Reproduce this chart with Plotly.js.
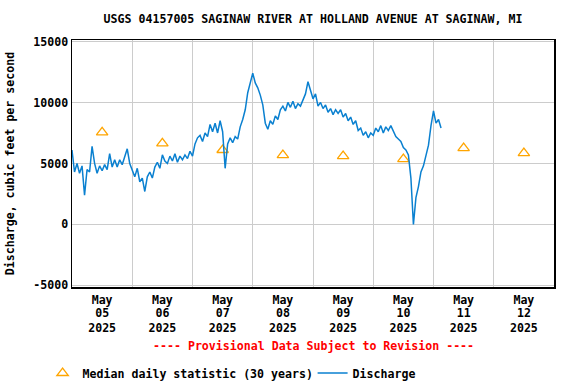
<!DOCTYPE html>
<html>
<head>
<meta charset="utf-8">
<script src="https://cdn.plot.ly/plotly-3.0.1.min.js"></script>
<style>html,body{margin:0;padding:0;background:#fff;}#chart{width:576px;height:384px;}</style>
</head>
<body>
<div id="chart"></div>
<script>
// ---- data ----
const dischargeStart = '2025-05-05T00:00:00';
const dischargeStepHours = 1;
const discharge = [
  6100, 4300, 5000, 4200, 4800, 2400, 4500, 4300, 6400, 5000,
  4200, 4800, 4400, 4900, 4500, 5800, 4700, 5300, 4700, 5300,
  4900, 5500, 6200, 5000, 4500, 3900, 4600, 3500, 3800, 2700,
  3900, 4300, 3800, 4700, 5100, 4600, 5700, 5200, 5000, 5600,
  5200, 5800, 5100, 5600, 5300, 5700, 5400, 6000, 5600, 6600,
  7100, 7300, 6800, 7500, 7200, 8200, 7600, 8300, 7500, 8500,
  7600, 4600, 6600, 7100, 6700, 7200, 7000, 8000, 8600, 9400,
  10800, 11500, 12400, 11600, 11200, 10600, 9800, 8300, 7800, 8500,
  8200, 8900, 8600, 9400, 9700, 9300, 10000, 9600, 10100, 9500,
  9900, 9700, 10200, 10700, 11700, 10900, 10300, 10700, 9700, 10000,
  9500, 9800, 9200, 9500, 9000, 9400, 9100, 9400, 8800, 9100,
  8500, 8800, 8200, 8500, 7700, 7900, 7300, 7600, 7100, 7500,
  7300, 7900, 7600, 8100, 7500, 8000, 7700, 8100, 7600, 7200,
  7000, 6800, 6300, 6100, 5700, 3800, 0, 2200, 3100, 4300,
  4800, 5800, 6500, 8100, 9300, 8300, 8600, 7900
];
const medianDates = ['2025-05-05 12:00','2025-05-06 12:00','2025-05-07 12:00','2025-05-08 12:00',
                     '2025-05-09 12:00','2025-05-10 12:00','2025-05-11 12:00','2025-05-12 12:00'];
const medianValues = [7550, 6650, 6100, 5680, 5600, 5350, 6250, 5850];
const tickDates = medianDates;
const tickMonths = ['May','May','May','May','May','May','May','May'];
const tickDays = ['05','06','07','08','09','10','11','12'];
const tickYears = ['2025','2025','2025','2025','2025','2025','2025','2025'];
const yTicks = [-5000, 0, 5000, 10000, 15000];
const titleText = 'USGS 04157005 SAGINAW RIVER AT HOLLAND AVENUE AT SAGINAW, MI';
const yTitle = 'Discharge, cubic feet per second';
const noteText = '---- Provisional Data Subject to Revision ----';

// ---- build ----
const t0 = new Date(dischargeStart + 'Z').getTime();
function fmt(ms){ return new Date(ms).toISOString().slice(0,19).replace('T',' '); }
const dischargeTimes = discharge.map((v,i) => fmt(t0 + i*dischargeStepHours*3600000));

const FONT = 'DejaVu Sans Mono';
const fs = 11.6;
const tf = {family: FONT, size: fs, color: '#000', weight: 'bold'};
const xRange = ['2025-05-05 00:00', '2025-05-13 00:00'];

const traces = [
  {
    x: medianDates, y: medianValues, type: 'scatter', mode: 'markers',
    name: 'Median daily statistic (30 years)',
    marker: {symbol: 'triangle-up-open', size: 10, color: '#FFA500', line: {width: 1.3, color: '#FFA500'}}
  },
  {
    x: dischargeTimes, y: discharge, type: 'scatter', mode: 'lines',
    name: 'Discharge',
    line: {color: '#0a80d0', width: 1.5}
  },
  {x: [], y: [], xaxis: 'x2', yaxis: 'y', showlegend: false, hoverinfo: 'skip'},
  {x: [], y: [], xaxis: 'x3', yaxis: 'y', showlegend: false, hoverinfo: 'skip'}
];

function labelAxis(text, standoff, overlay){
  const a = {
    type: 'date', range: xRange, tickmode: 'array', tickvals: tickDates, ticktext: text,
    ticks: '', showgrid: false, zeroline: false, tickfont: tf, ticklabelstandoff: standoff,
    fixedrange: true
  };
  if (overlay) { a.overlaying = 'x'; a.side = 'bottom'; a.anchor = 'y'; a.showline = false; }
  return a;
}

const xa = labelAxis(tickMonths, 2, false);
Object.assign(xa, {
  showline: true, mirror: true, linecolor: '#000', linewidth: 1.5,
  minor: {dtick: 86400000, tick0: '2025-05-05', showgrid: true, gridcolor: '#cccccc', gridwidth: 1, ticks: ''}
});

const layout = {
  width: 576, height: 384,
  margin: {l: 72, r: 22, t: 40, b: 97, autoexpand: false},
  paper_bgcolor: '#fff', plot_bgcolor: '#fff',
  font: tf,
  title: {text: titleText, font: tf,
          xref: 'paper', x: 0.5, xanchor: 'center', yref: 'container', y: 1 - 19/384, yanchor: 'middle'},
  xaxis: xa,
  xaxis2: labelAxis(tickDays, 17, true),
  xaxis3: labelAxis(tickYears, 32, true),
  yaxis: {
    range: [-5130, 15120], tickmode: 'array', tickvals: yTicks, ticktext: yTicks.map(String),
    ticks: '', showgrid: true, gridcolor: '#cccccc', gridwidth: 1, zeroline: false,
    showline: true, mirror: true, linecolor: '#000', linewidth: 1.5,
    tickfont: tf,
    title: {text: yTitle, font: tf, standoff: 16}
  },
  showlegend: true,
  legend: {orientation: 'h', xref: 'paper', yref: 'paper', x: -0.061, xanchor: 'left', y: (287-373)/247, yanchor: 'middle',
           font: tf, bgcolor: 'rgba(0,0,0,0)', entrywidth: 225, entrywidthmode: 'pixels'},
  annotations: [
    {text: noteText, xref: 'paper', yref: 'paper', x: 0.5, y: (287-346)/247, xanchor: 'center', yanchor: 'middle',
     showarrow: false, font: {family: FONT, size: fs, color: '#ff0000', weight: 'bold'}}
  ]
};

Plotly.newPlot('chart', traces, layout, {staticPlot: true, displayModeBar: false});
</script>
</body>
</html>
